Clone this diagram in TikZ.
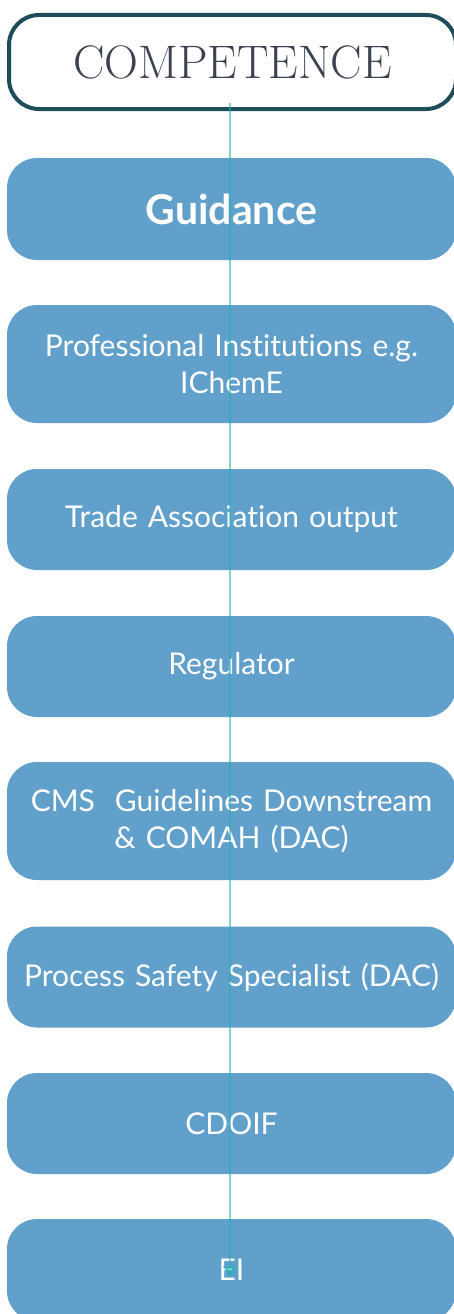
\documentclass[tikz,border=0pt]{standalone}
\usepackage{fontspec}
\newfontfamily\boxfont[Ligatures={NoCommon}]{Lato}
\usetikzlibrary{arrows.meta}
\definecolor{boxblue}{RGB}{98,160,204}
\definecolor{compedge}{RGB}{30,77,90}
\definecolor{comptext}{RGB}{59,67,80}
\definecolor{linkteal}{RGB}{31,177,177}
\tikzset{
  bluebox/.style={rectangle, rounded corners=30pt, fill=boxblue, text=white,
    minimum width=449pt, inner sep=0pt, align=center, text width=440pt,
    font=\boxfont\fontsize{30}{37}\selectfont},
  compbox/.style={rectangle, rounded corners=30pt, draw=compedge, line width=4pt,
    fill=white, text=comptext, minimum width=447pt, minimum height=94pt,
    inner sep=0pt, font=\fontsize{47}{52}\selectfont},
  link/.style={draw=linkteal, draw opacity=0.55, fill=linkteal, fill opacity=0.55, line width=2.6pt,
    -{Triangle[width=14pt,length=12pt]}}
}
\begin{document}
\begin{tikzpicture}[x=1pt,y=-1pt]
\useasboundingbox (0,0) rectangle (454,1314);
\clip (0,0) rectangle (454,1314);
\node[compbox] (comp) at (232.5,62) {COMPETENCE};
\node[bluebox, minimum height=102pt, font=\boxfont\bfseries\fontsize{41}{46}\selectfont] (b1) at (231.5,209) {Guidance};
\node[bluebox, minimum height=118pt] (b2) at (231.5,364) {Professional Institutions e.g.\\IChemE};
\node[bluebox, minimum height=101pt] (b3) at (231.5,519.5) {Trade Association output};
\node[bluebox, minimum height=101pt] (b4) at (231.5,666.5) {Regulator};
\node[bluebox, minimum height=118pt] (b5) at (231.5,821) {CMS\ \ Guidelines Downstream\\\& COMAH (DAC)};
\node[bluebox, minimum height=101pt] (b6) at (231.5,977) {Process Safety Specialist (DAC)};
\node[bluebox, minimum height=101pt] (b7) at (231.5,1123.5) {CDOIF};
\node[bluebox, minimum height=102pt] (b8) at (231.5,1270) {EI};
\coordinate (start) at ([yshift=8pt]comp.south);
\coordinate (finish) at ([yshift=-8pt]b8.center);
\path[link] (start -| 230,0) -- (finish -| 230,0);
\end{tikzpicture}
\end{document}
